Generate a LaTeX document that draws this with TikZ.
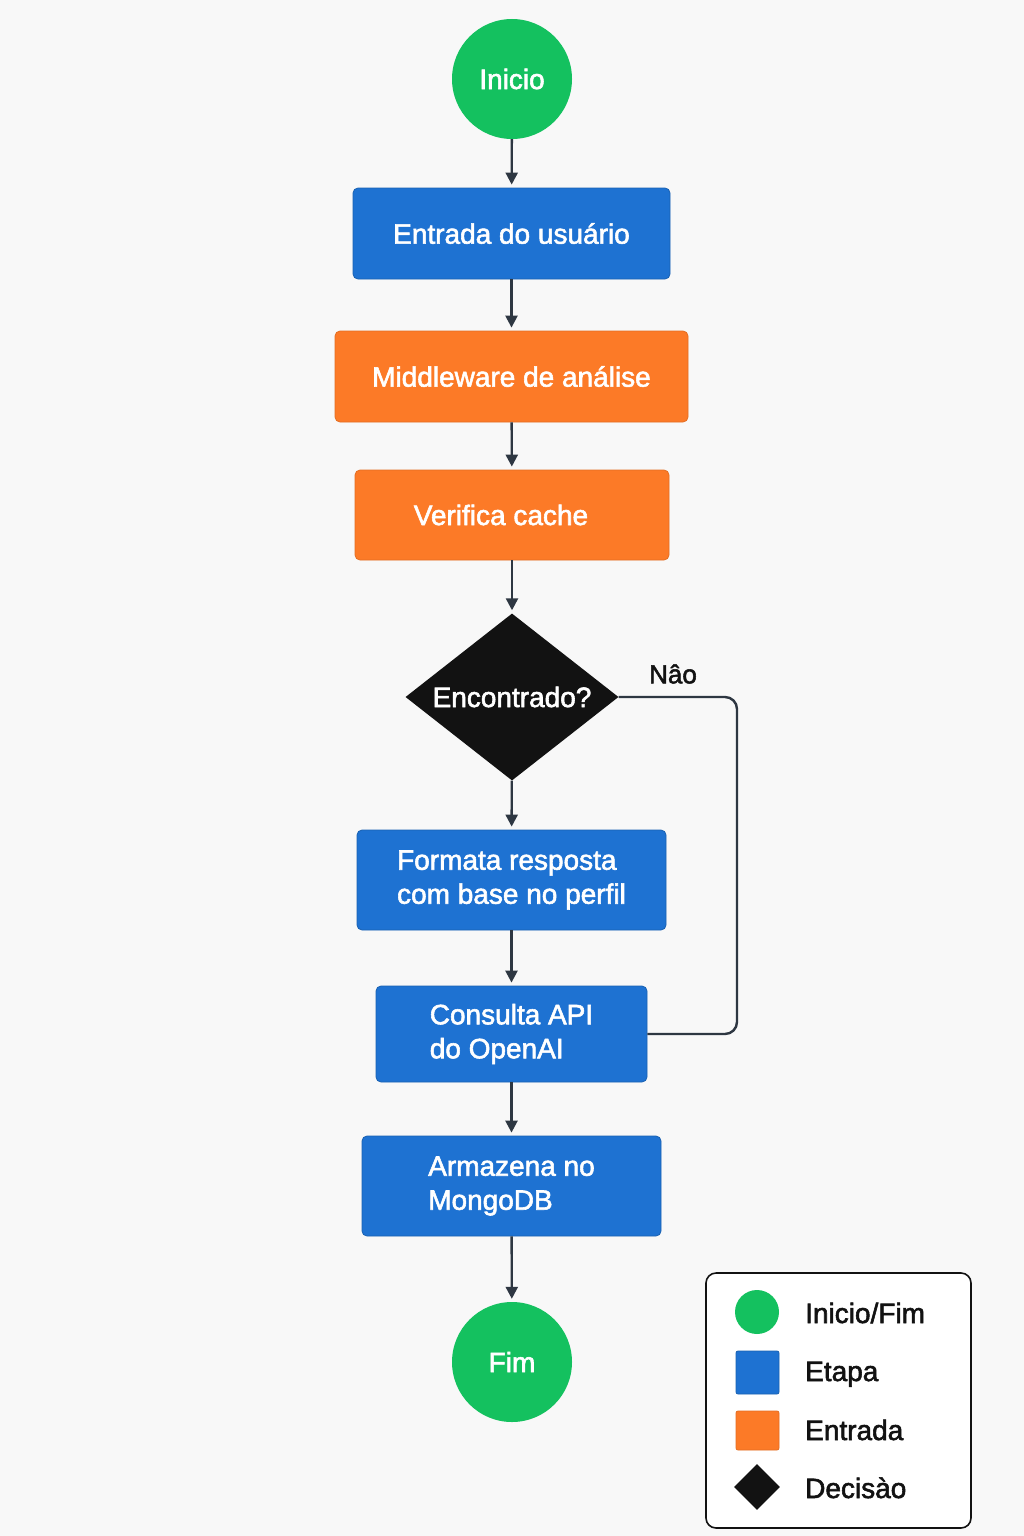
\documentclass[tikz,border=0pt]{standalone}
\usepackage{fontspec}
\setmainfont{Liberation Sans}
\newfontfamily\medfont[FakeBold=2]{Liberation Sans}
\usetikzlibrary{shapes.geometric,arrows.meta}
\definecolor{bg}{HTML}{F8F8F8}
\definecolor{startgreen}{HTML}{14C15F}
\definecolor{stepblue}{HTML}{1E72D2}
\definecolor{inputorange}{HTML}{FC7A27}
\definecolor{decblack}{HTML}{121212}
\definecolor{linegray}{HTML}{2E3742}
\newcommand{\boxfont}{\medfont\fontsize{28}{34}\selectfont}
\begin{document}
\begin{tikzpicture}[x=1pt,y=-1pt,
  terminal/.style={circle, fill=startgreen, minimum size=120pt, inner sep=0pt,
    text=white, font=\boxfont},
  stepbox/.style={rectangle, rounded corners=5pt, fill=stepblue,
    draw=stepblue!85!black, line width=0.8pt, text=white, font=\boxfont,
    align=left, inner sep=0pt},
  inputbox/.style={stepbox, fill=inputorange, draw=inputorange!90!black},
  decision/.style={diamond, fill=decblack, inner sep=0pt, aspect=1.275,
    minimum width=213pt, minimum height=167pt, text=white, font=\boxfont},
  flow/.style={draw=linegray, line width=2.4pt,
    -{Triangle[length=12pt,width=12pt]}, shorten >=3pt},
  loopline/.style={draw=linegray, line width=2.4pt, rounded corners=12pt},
  legendtext/.style={anchor=base west, text=decblack, font=\boxfont, inner sep=0pt},
]
% canvas
\fill[bg] (0,0) rectangle (1024,1536);

% flow nodes
\node[terminal] (ini) at (512,79) {Inicio};
\node[stepbox, minimum width=317pt, minimum height=91pt] (ent) at (511.5,233.5) {Entrada do usuário};
\node[inputbox, minimum width=353pt, minimum height=91pt] (mid) at (511.5,376.5) {Middleware de análise};
\node[inputbox, minimum width=314pt, minimum height=90pt] (ver) at (512,515) {Verifica cache\hspace{22pt}};
\node[decision] (dec) at (512,697) {Encontrado?};
\node[stepbox, minimum width=309pt, minimum height=100pt] (fmt) at (511.5,880) {Formata resposta\\com base no perfil};
\node[stepbox, minimum width=271pt, minimum height=96pt] (api) at (511.5,1034) {Consulta API\\do OpenAI\hspace{6pt}};
\node[stepbox, minimum width=299pt, minimum height=100pt] (arm) at (511.5,1186) {Armazena no\hspace{24pt}\\MongoDB};
\node[terminal] (fim) at (512,1362) {Fim};

% main flow
\draw[flow] (ini) -- (ent);
\draw[flow] (ent) -- (mid);
\draw[flow] (mid) -- (ver);
\draw[flow] (ver) -- (dec);
\draw[flow] (dec) -- (fmt);
\draw[flow] (fmt) -- (api);
\draw[flow] (api) -- (arm);
\draw[flow] (arm) -- (fim);

% "Não" branch
\coordinate (loopx) at (737,0);
\draw[loopline] (dec.east) -- (dec.east -| loopx) -- (api.east -| loopx) -- (api.east);
\node[text=decblack, font=\medfont\fontsize{26}{30}\selectfont] (nao) at (673,674) {Nâo};

% legend
\node[draw=decblack, line width=1.6pt, fill=white, rounded corners=10pt,
  minimum width=265pt, minimum height=255pt, inner sep=0pt] (legend) at (838.5,1400.5) {};
\node[circle, fill=startgreen, minimum size=44pt, inner sep=0pt] (lgA) at (757,1312) {};
\node[rectangle, rounded corners=2pt, fill=stepblue, draw=stepblue!85!black, line width=0.8pt,
  minimum width=43pt, minimum height=43pt, inner sep=0pt] (lgB) at (757.5,1372.5) {};
\node[rectangle, rounded corners=2pt, fill=inputorange, draw=inputorange!90!black, line width=0.8pt,
  minimum width=43pt, minimum height=39pt, inner sep=0pt] (lgC) at (757.5,1430.5) {};
\node[diamond, fill=decblack, minimum width=46pt, minimum height=46pt, inner sep=0pt] (lgD) at (757,1487) {};
\node[legendtext] (ltA) at (805,1323) {Inicio/Fim};
\node[legendtext] (ltB) at (805,1381) {Etapa};
\node[legendtext] (ltC) at (805,1440) {Entrada};
\node[legendtext] (ltD) at (805,1498) {Decisào};
\end{tikzpicture}
\end{document}
